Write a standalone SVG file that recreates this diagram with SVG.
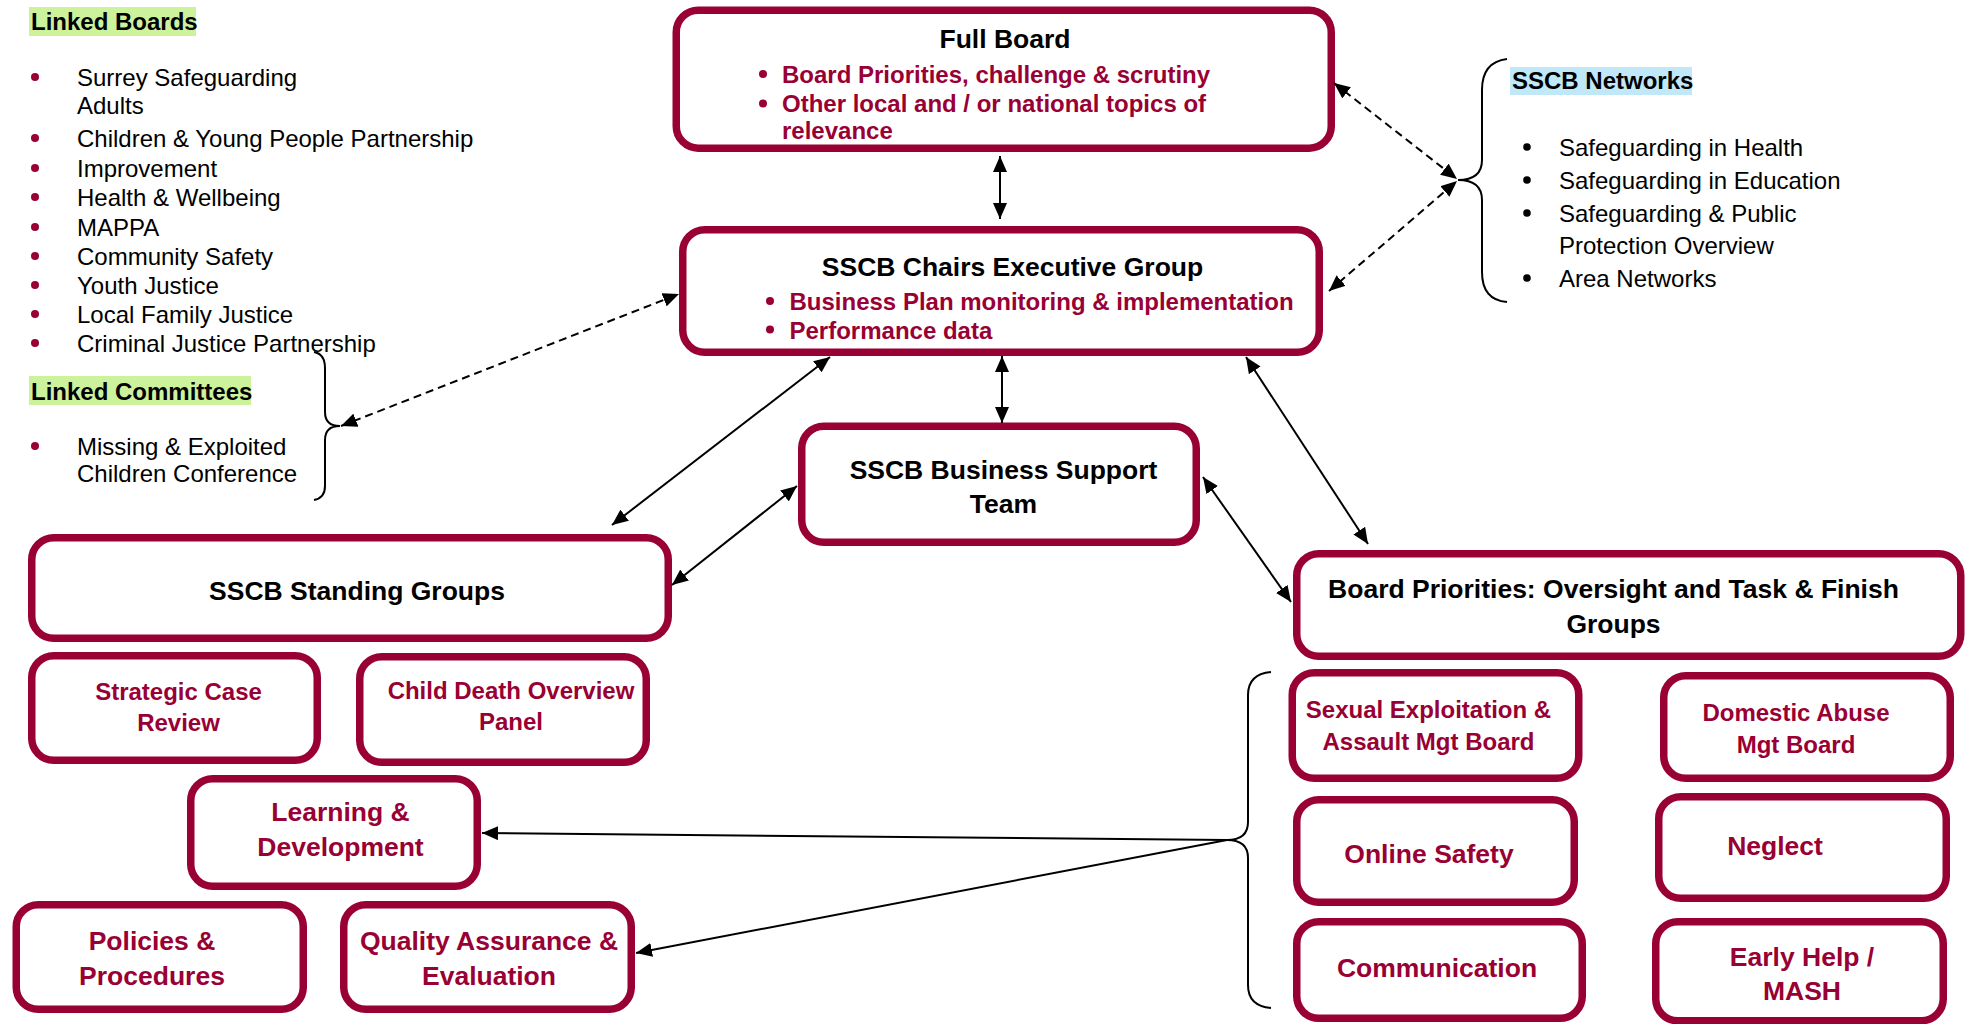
<svg xmlns="http://www.w3.org/2000/svg" width="1971" height="1024" viewBox="0 0 1971 1024">
<style>
.box{fill:#fff;stroke:#990033;stroke-width:7.5}
text{font-family:"Liberation Sans",Arial,sans-serif}
.ti{font-size:26.5px;font-weight:bold;fill:#000;text-anchor:middle}
.rt{font-size:26.5px;font-weight:bold;fill:#990033;text-anchor:middle}
.rs{font-size:24px;font-weight:bold;fill:#990033;text-anchor:middle}
.rb{font-size:24px;font-weight:bold;fill:#990033}
.li{font-size:24px;fill:#000}
.hd{font-size:24px;font-weight:bold;fill:#000}
.rd{fill:#990033}
.bd{fill:#000}
.conn{stroke:#000;stroke-width:2;fill:none}
.dash{stroke-dasharray:8 5}
.brace{stroke:#000;stroke-width:2;fill:none}
</style>
<defs>
<marker id="ah" viewBox="0 0 16 14" refX="16" refY="7" markerWidth="16" markerHeight="14" markerUnits="userSpaceOnUse" orient="auto-start-reverse">
<path d="M0,0 L16,7 L0,14 z" fill="#000" stroke="none"/>
</marker>
</defs>
<rect width="1971" height="1024" fill="#fff"/>

<g id="linked-boards">
<rect x="29" y="7" width="167" height="29" fill="#ccf29c"/>
<text class="hd" x="31" y="30">Linked Boards</text>
<g class="rd">
<circle cx="35" cy="77" r="4"/><circle cx="35" cy="138" r="4"/><circle cx="35" cy="168" r="4"/><circle cx="35" cy="197" r="4"/><circle cx="35" cy="227" r="4"/><circle cx="35" cy="256" r="4"/><circle cx="35" cy="285" r="4"/><circle cx="35" cy="314" r="4"/><circle cx="35" cy="343" r="4"/>
</g>
<text class="li" x="77" y="86">Surrey Safeguarding</text>
<text class="li" x="77" y="114">Adults</text>
<text class="li" x="77" y="147">Children &amp; Young People Partnership</text>
<text class="li" x="77" y="177">Improvement</text>
<text class="li" x="77" y="206">Health &amp; Wellbeing</text>
<text class="li" x="77" y="236">MAPPA</text>
<text class="li" x="77" y="265">Community Safety</text>
<text class="li" x="77" y="294">Youth Justice</text>
<text class="li" x="77" y="323">Local Family Justice</text>
<text class="li" x="77" y="352">Criminal Justice Partnership</text>
</g>

<g id="linked-committees">
<rect x="29" y="376" width="222" height="29" fill="#ccf29c"/>
<text class="hd" x="31" y="399.5">Linked Committees</text>
<circle class="rd" cx="35" cy="446" r="4"/>
<text class="li" x="77" y="455">Missing &amp; Exploited</text>
<text class="li" x="77" y="482">Children Conference</text>
<path class="brace" d="M314,352 Q325,354 325,368 L325,412 Q325,426 340,426 Q325,426 325,440 L325,486 Q325,498 314,500"/>
</g>

<g id="sscb-networks">
<rect x="1510" y="67" width="182" height="28" fill="#c0e8f8"/>
<text class="hd" x="1512" y="89">SSCB Networks</text>
<g class="bd">
<circle cx="1527" cy="147" r="3.8"/><circle cx="1527" cy="180" r="3.8"/><circle cx="1527" cy="213" r="3.8"/><circle cx="1527" cy="278" r="3.8"/>
</g>
<text class="li" x="1559" y="155.5">Safeguarding in Health</text>
<text class="li" x="1559" y="188.5">Safeguarding in Education</text>
<text class="li" x="1559" y="221.5">Safeguarding &amp; Public</text>
<text class="li" x="1559" y="253.5">Protection Overview</text>
<text class="li" x="1559" y="286.5">Area Networks</text>
<path class="brace" d="M1507,59 Q1482,62 1482,90 L1482,160 Q1482,180 1458,180 Q1482,180 1482,200 L1482,272 Q1482,300 1507,302"/>
</g>

<g id="full-board">
<rect class="box" x="676.25" y="10.15" width="655" height="138" rx="22"/>
<text class="ti" x="1005" y="48">Full Board</text>
<circle class="rd" cx="763" cy="74" r="4"/>
<circle class="rd" cx="763" cy="103.5" r="4"/>
<text class="rb" x="782" y="82.6">Board Priorities, challenge &amp; scrutiny</text>
<text class="rb" x="782" y="112">Other local and / or national topics of</text>
<text class="rb" x="782" y="139">relevance</text>
</g>

<g id="chairs-executive">
<rect class="box" x="682.75" y="229.75" width="636.5" height="122.5" rx="22"/>
<text class="ti" x="1012.5" y="275.5">SSCB Chairs Executive Group</text>
<circle class="rd" cx="770" cy="301" r="4"/>
<circle class="rd" cx="770" cy="329.5" r="4"/>
<text class="rb" x="789.5" y="310">Business Plan monitoring &amp; implementation</text>
<text class="rb" x="789.5" y="338.5">Performance data</text>
</g>

<g id="business-support">
<rect class="box" x="801.75" y="426.25" width="394.5" height="116" rx="22"/>
<text class="ti" x="1003.5" y="478.5">SSCB Business Support</text>
<text class="ti" x="1003.5" y="513">Team</text>
</g>

<g id="standing-groups">
<rect class="box" x="31.75" y="537.75" width="636.5" height="100.5" rx="22"/>
<text class="ti" x="357" y="599.5">SSCB Standing Groups</text>
</g>

<g id="strategic-case-review">
<rect class="box" x="31.75" y="655.75" width="285.5" height="104.5" rx="22"/>
<text class="rs" x="178.5" y="700.3">Strategic Case</text>
<text class="rs" x="178.5" y="731.3">Review</text>
</g>

<g id="child-death">
<rect class="box" x="359.75" y="656.75" width="286.5" height="105.5" rx="22"/>
<text class="rs" x="511" y="698.6">Child Death Overview</text>
<text class="rs" x="511" y="729.6">Panel</text>
</g>

<g id="learning-development">
<rect class="box" x="190.75" y="778.75" width="286.5" height="107.5" rx="22"/>
<text class="rt" x="340.5" y="820.5">Learning &amp;</text>
<text class="rt" x="340.5" y="856">Development</text>
</g>

<g id="policies-procedures">
<rect class="box" x="16.25" y="904.75" width="287" height="104.5" rx="22"/>
<text class="rt" x="152" y="949.5">Policies &amp;</text>
<text class="rt" x="152" y="984.5">Procedures</text>
</g>

<g id="quality-assurance">
<rect class="box" x="343.75" y="904.75" width="287.5" height="104.5" rx="22"/>
<text class="rt" x="489" y="949.5">Quality Assurance &amp;</text>
<text class="rt" x="489" y="984.5">Evaluation</text>
</g>

<g id="board-priorities">
<rect class="box" x="1296.75" y="553.75" width="664" height="102.5" rx="22"/>
<text class="ti" x="1613.5" y="597.5">Board Priorities: Oversight and Task &amp; Finish</text>
<text class="ti" x="1613.5" y="632.5">Groups</text>
</g>

<g id="sexual-exploitation">
<rect class="box" x="1292.25" y="672.75" width="286.5" height="105.5" rx="22"/>
<text class="rs" x="1428.5" y="717.6">Sexual Exploitation &amp;</text>
<text class="rs" x="1428.5" y="749.6">Assault Mgt Board</text>
</g>

<g id="domestic-abuse">
<rect class="box" x="1663.75" y="675.75" width="286.5" height="102.5" rx="22"/>
<text class="rs" x="1796" y="720.6">Domestic Abuse</text>
<text class="rs" x="1796" y="752.6">Mgt Board</text>
</g>

<g id="online-safety">
<rect class="box" x="1296.75" y="799.75" width="277.5" height="102.5" rx="22"/>
<text class="rt" x="1429" y="862.5">Online Safety</text>
</g>

<g id="neglect">
<rect class="box" x="1658.75" y="796.75" width="287.5" height="101.5" rx="22"/>
<text class="rt" x="1775" y="855">Neglect</text>
</g>

<g id="communication">
<rect class="box" x="1296.75" y="921.75" width="285.5" height="96.5" rx="22"/>
<text class="rt" x="1437" y="977">Communication</text>
</g>

<g id="early-help-mash">
<rect class="box" x="1655.75" y="921.75" width="287.5" height="99" rx="22"/>
<text class="rt" x="1802" y="966">Early Help /</text>
<text class="rt" x="1802" y="1000">MASH</text>
</g>

<path class="brace" id="priorities-brace" d="M1271,672 Q1248,674 1248,695 L1248,822 Q1248,840 1227,840 Q1248,840 1248,858 L1248,985 Q1248,1006 1271,1008"/>

<g id="connectors">
<line class="conn" x1="1000" y1="156" x2="1000" y2="219" marker-start="url(#ah)" marker-end="url(#ah)"/>
<line class="conn" x1="1002" y1="356" x2="1002" y2="423" marker-start="url(#ah)" marker-end="url(#ah)"/>
<line class="conn" x1="830" y1="357" x2="612" y2="525" marker-start="url(#ah)" marker-end="url(#ah)"/>
<line class="conn" x1="797" y1="486" x2="672" y2="585" marker-start="url(#ah)" marker-end="url(#ah)"/>
<line class="conn" x1="1246" y1="357" x2="1368" y2="544" marker-start="url(#ah)" marker-end="url(#ah)"/>
<line class="conn" x1="1203" y1="477" x2="1291" y2="602" marker-start="url(#ah)" marker-end="url(#ah)"/>
<line class="conn dash" x1="1334" y1="83" x2="1457" y2="179" marker-start="url(#ah)" marker-end="url(#ah)"/>
<line class="conn dash" x1="1329" y1="291" x2="1457" y2="181" marker-start="url(#ah)" marker-end="url(#ah)"/>
<line class="conn dash" x1="341" y1="426" x2="679" y2="294" marker-start="url(#ah)" marker-end="url(#ah)"/>
<line class="conn" x1="1227" y1="840" x2="482" y2="833" marker-end="url(#ah)"/>
<line class="conn" x1="1227" y1="840" x2="636" y2="953" marker-end="url(#ah)"/>
</g>
</svg>
